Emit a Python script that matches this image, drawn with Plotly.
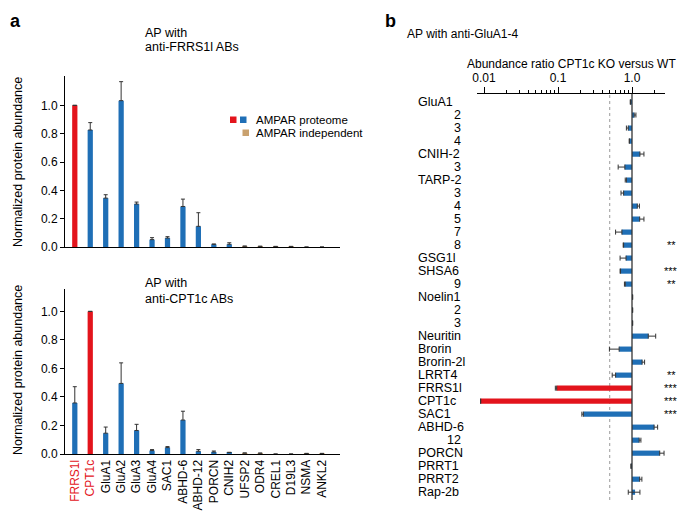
import plotly.graph_objects as go

# The page body adds an 8px margin; the figure is sized to fill the rest of the window
OFF = 8
W, H = 685 - OFF, 515 - OFF
FONT = "Liberation Sans, Arial, Helvetica, sans-serif"
RED = "#e3141c"
BLUE = "#1f6fb6"
TAN = "#c9a16e"
ERRC = "#333333"

# ---------------- Panel a data ----------------
a_categories = ["FRRS1l", "CPT1c", "GluA1", "GluA2", "GluA3", "GluA4", "SAC1",
                "ABHD-6", "ABHD-12", "PORCN", "CNIH2", "UFSP2", "ODR4", "CREL1",
                "D19L3", "NSMA", "ANKL2"]
a_group = ["proteome"] * 11 + ["independent"] * 6
a_frrs1l_values = [1.0, 0.826, 0.345, 1.033, 0.303, 0.052, 0.063, 0.286, 0.146,
                   0.019, 0.019, 0.006, 0.005, 0.004, 0.004, 0.0, 0.0]
a_frrs1l_err = [0.0, 0.052, 0.024, 0.134, 0.014, 0.014, 0.010, 0.052, 0.096,
                0.002, 0.011, 0.0, 0.0, 0.0, 0.0, 0.0, 0.0]
a_cpt1c_values = [0.358, 1.0, 0.146, 0.495, 0.165, 0.024, 0.045, 0.238, 0.019,
                  0.014, 0.010, 0.007, 0.006, 0.0, 0.0, 0.004, 0.004]
a_cpt1c_err = [0.114, 0.0, 0.043, 0.144, 0.043, 0.007, 0.007, 0.062, 0.012,
               0.007, 0.002, 0.0, 0.0, 0.0, 0.0, 0.0, 0.0]
a_yticks = [0.0, 0.2, 0.4, 0.6, 0.8, 1.0]

# ---------------- Panel b data ----------------
b_labels = ["GluA1", "2", "3", "4", "CNIH-2", "3", "TARP-2", "3", "4", "5", "7", "8",
            "GSG1l", "SHSA6", "9", "Noelin1", "2", "3", "Neuritin", "Brorin",
            "Brorin-2l", "LRRT4", "FRRS1l", "CPT1c", "SAC1", "ABHD-6", "12",
            "PORCN", "PRRT1", "PRRT2", "Rap-2b"]
b_ratio = [0.95, 1.07, 0.89, 0.92, 1.28, 0.80, 0.84, 0.77, 1.18, 1.27, 0.73, 0.77,
           0.83, 0.70, 0.81, 1.02, 1.02, 1.02, 1.66, 0.67, 1.37, 0.60, 0.096,
           0.009, 0.22, 1.99, 1.25, 2.37, 0.97, 1.27, 1.10]
b_err_plus = [0.0, 0.06, 0.0, 0.0, 0.17, 0.0, 0.0, 0.0, 0.08, 0.18, 0.0, 0.0,
              0.0, 0.0, 0.0, 0.0, 0.0, 0.0, 0.43, 0.0, 0.11, 0.0, 0.0,
              0.0, 0.0, 0.23, 0.07, 0.34, 0.0, 0.09, 0.18]
b_err_minus = [0.0, 0.0, 0.05, 0.0, 0.0, 0.15, 0.03, 0.06, 0.0, 0.0, 0.13, 0.01,
               0.14, 0.01, 0.02, 0.0, 0.0, 0.0, 0.0, 0.175, 0.0, 0.06, 0.004,
               0.0, 0.01, 0.0, 0.0, 0.0, 0.0, 0.0, 0.21]
b_sig = ["", "", "", "", "", "", "", "", "", "", "", "**", "", "***", "**", "", "",
         "", "", "", "", "**", "***", "***", "***", "", "", "", "", "", ""]
b_red = ["FRRS1l", "CPT1c"]
b_xticks = [0.01, 0.1, 1.0]
b_xticktext = ["0.01", "0.1", "1.0"]
b_minor = [0.02, 0.03, 0.04, 0.05, 0.06, 0.07, 0.08, 0.09,
           0.2, 0.3, 0.4, 0.5, 0.6, 0.7, 0.8, 0.9, 2.0]
b_ref = 1.0
b_cutoff = 0.5


def px(x):
    return (x - OFF) / W


def py(y):
    return 1 - (y - OFF) / H


fig = go.Figure()


def a_colors(bait):
    cols = []
    for c, g in zip(a_categories, a_group):
        if c == bait:
            cols.append(RED)
        elif g == "proteome":
            cols.append(BLUE)
        else:
            cols.append(TAN)
    return cols


for vals, errs, bait, xa, ya in [(a_frrs1l_values, a_frrs1l_err, "FRRS1l", "x", "y"),
                                 (a_cpt1c_values, a_cpt1c_err, "CPT1c", "x2", "y2")]:
    fig.add_trace(go.Bar(
        x=a_categories, y=vals, xaxis=xa, yaxis=ya, width=0.34,
        marker=dict(color=a_colors(bait), line=dict(width=0)),
        error_y=dict(type="data", symmetric=False, array=errs,
                     arrayminus=[0] * len(errs), color=ERRC, thickness=1, width=2),
        showlegend=False, hoverinfo="x+y"))

# Panel b bars
idx = list(range(len(b_labels)))
b_cols = [RED if l in b_red else BLUE for l in b_labels]
fig.add_trace(go.Bar(
    y=idx, x=[v - b_ref for v in b_ratio], base=b_ref, orientation="h",
    xaxis="x3", yaxis="y3", width=0.4,
    marker=dict(color=b_cols, line=dict(width=0)), showlegend=False))
fig.add_trace(go.Scatter(
    y=idx, x=b_ratio, mode="markers", xaxis="x3", yaxis="y3",
    marker=dict(size=1, opacity=0),
    error_x=dict(type="data", symmetric=False, array=b_err_plus,
                 arrayminus=b_err_minus, color=ERRC, thickness=1, width=2.5),
    showlegend=False, hoverinfo="skip"))

# Axes
x_dom = [px(65), px(340)]
a_xrange = [-0.634, 17.166]
common_y = dict(showline=True, linecolor="black", linewidth=1, ticks="outside",
                ticklen=4, tickcolor="black", tickvals=a_yticks,
                tickformat=".1f", showgrid=False, zeroline=False, automargin=False,
                tickfont=dict(size=12, color="black"))
fig.update_layout(
    width=W, height=H, margin=dict(l=0, r=0, t=0, b=0, pad=0, autoexpand=False),
    paper_bgcolor="white", plot_bgcolor="white",
    font=dict(family=FONT, size=12, color="black"),
    bargap=0.6,
    xaxis=dict(domain=x_dom, range=a_xrange, anchor="y", showline=True,
               linecolor="black", showticklabels=False, ticks="", showgrid=False,
               automargin=False),
    yaxis=dict(domain=[py(247), py(76)], range=[0, 1.207], anchor="x", **common_y),
    xaxis2=dict(domain=x_dom, range=a_xrange, anchor="y2", showline=True,
                linecolor="black", ticks="", tickangle=-90, showgrid=False,
                automargin=False,
                tickfont=dict(size=12, color="black"),
                tickvals=a_categories,
                ticktext=[f"<span style='color:{RED}'>{c}</span>" if c in b_red else c
                          for c in a_categories]),
    yaxis2=dict(domain=[py(454), py(289)], range=[0, 1.157], anchor="x2", **common_y),
    xaxis3=dict(type="log", domain=[px(477), px(665)], range=[-2.095, 0.446],
                anchor="y3", side="top", showline=True, linecolor="black",
                ticks="outside", ticklen=6, tickcolor="black", automargin=False,
                tickvals=b_xticks, ticktext=b_xticktext, showgrid=False,
                zeroline=False, tickfont=dict(size=12, color="black"),
                minor=dict(tickvals=b_minor, ticks="outside", ticklen=3,
                           tickcolor="black", showgrid=False)),
    yaxis3=dict(domain=[py(500), py(93.7)], range=[30.6, -0.64], anchor="x3",
                showline=False, showticklabels=False, ticks="", showgrid=False,
                zeroline=False, automargin=False),
)

shapes = [
    dict(type="line", xref="x3", yref="y3 domain", x0=b_cutoff, x1=b_cutoff, y0=0, y1=1,
         line=dict(color="#9a9a9a", width=1, dash="3px,3px"), layer="below"),
    dict(type="line", xref="x3", yref="y3 domain", x0=b_ref, x1=b_ref, y0=0, y1=1,
         line=dict(color="#333333", width=1.3)),
    # legend swatches
    dict(type="rect", xref="paper", yref="paper", x0=px(230), x1=px(236.5),
         y0=py(123), y1=py(116.5), fillcolor=RED, line=dict(width=0)),
    dict(type="rect", xref="paper", yref="paper", x0=px(240), x1=px(246.5),
         y0=py(123), y1=py(116.5), fillcolor=BLUE, line=dict(width=0)),
    dict(type="rect", xref="paper", yref="paper", x0=px(242.5), x1=px(249),
         y0=py(136), y1=py(129.5), fillcolor=TAN, line=dict(width=0)),
]
fig.update_layout(shapes=shapes)

ann = []


def text(x, y, s, size=12, xanchor="left", yanchor="middle", angle=0, color="black"):
    ann.append(dict(x=px(x), y=py(y), xref="paper", yref="paper", text=s,
                    showarrow=False, xanchor=xanchor, yanchor=yanchor,
                    textangle=angle,
                    font=dict(size=size, family=FONT, color=color)))


text(8, 8.5, "<b>a</b>", size=18, yanchor="top")
text(383, 8.5, "<b>b</b>", size=18, yanchor="top")
text(143, 33, "AP with", size=12.5)
text(143, 47.5, "anti-FRRS1l ABs", size=12.5)
text(143, 283, "AP with", size=12.5)
text(143, 299, "anti-CPT1c ABs", size=12.5)
text(18, 162, "Normalized protein abundance", size=12.5, xanchor="center", angle=-90)
text(18, 370, "Normalized protein abundance", size=12.5, xanchor="center", angle=-90)
text(254, 120, "AMPAR proteome", size=11.5)
text(254, 133, "AMPAR independent", size=11.5)
text(405, 34, "AP with anti-GluA1-4", size=12)
text(571, 64, "Abundance ratio CPT1c KO versus WT", size=12, xanchor="center")

for i, lab in enumerate(b_labels):
    if lab.isdigit():
        ann.append(dict(x=px(463), xref="paper", y=i, yref="y3", text=lab,
                        showarrow=False, xanchor="right", yanchor="middle",
                        font=dict(size=12.5, family=FONT, color="black")))
    else:
        ann.append(dict(x=px(416), xref="paper", y=i, yref="y3", text=lab,
                        showarrow=False, xanchor="left", yanchor="middle",
                        font=dict(size=12.5, family=FONT, color="black")))
for i, s in enumerate(b_sig):
    if s:
        ann.append(dict(x=px(671), xref="paper", y=i, yref="y3", text=s,
                        showarrow=False, xanchor="center", yanchor="middle",
                        font=dict(size=11, family=FONT, color="black")))

fig.update_layout(annotations=ann)
fig.write_html("out.html")
